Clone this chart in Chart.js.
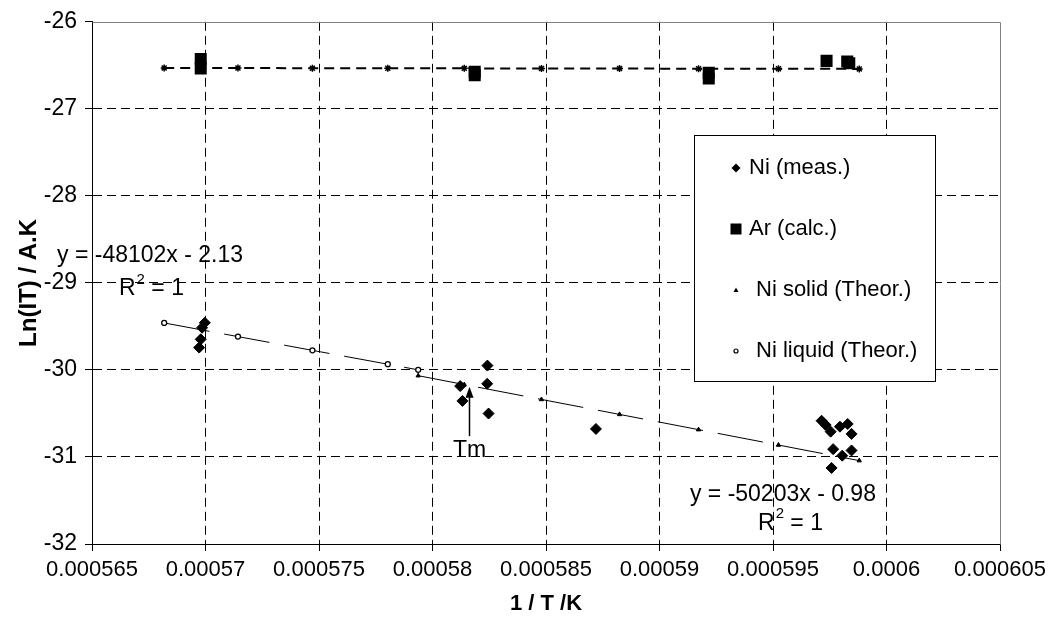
<!DOCTYPE html>
<html>
<head>
<meta charset="utf-8">
<script src="https://cdn.jsdelivr.net/npm/chart.js@4.4.0/dist/chart.umd.min.js"></script>
<style>
  html, body { margin: 0; padding: 0; background: #ffffff; }
  #wrap { width: 1052px; height: 627px; position: relative; }
</style>
</head>
<body>
<div id="wrap"><canvas id="chart"></canvas></div>
<script>
// Axis ticks
const xTickValues = [0.000565, 0.00057, 0.000575, 0.00058, 0.000585, 0.00059, 0.000595, 0.0006, 0.000605];
const xTickLabels = ['0.000565', '0.00057', '0.000575', '0.00058', '0.000585', '0.00059', '0.000595', '0.0006', '0.000605'];
const yTickValues = [-32, -31, -30, -29, -28, -27, -26];

// Ni, measured points (1/T, Ln(IT))
const niMeasX = [0.00056997, 0.00056985, 0.00056979, 0.00056972,
                 0.00058122, 0.00058132, 0.00058242, 0.00058241, 0.00058247, 0.00058720,
                 0.00059714, 0.00059732, 0.00059754, 0.00059795, 0.00059829, 0.00059846,
                 0.00059765, 0.00059805, 0.00059846, 0.00059758];
const niMeasY = [-29.458, -29.515, -29.648, -29.743,
                 -30.186, -30.356, -29.950, -30.159, -30.501, -30.678,
                 -30.584, -30.633, -30.709, -30.652, -30.621, -30.735,
                 -30.910, -30.985, -30.925, -31.126];

// Ar, calculated points
const arCalcX = [0.00056979, 0.00056979, 0.00058186, 0.00058186, 0.00059217, 0.00059217, 0.00059736, 0.00059827, 0.00059836];
const arCalcY = [-26.427, -26.537, -26.574, -26.613, -26.586, -26.651, -26.449, -26.455, -26.475];

// Ni solid, theoretical (from Tm down to 1670 K)
const niSolidX = [0.00057937, 0.00058140, 0.00058480, 0.00058824, 0.00059172, 0.00059524, 0.00059880];
const niSolidY = [-30.066, -30.168, -30.339, -30.511, -30.686, -30.863, -31.042];

// Ni liquid, theoretical (1760 K up to Tm)
const niLiquidX = [0.00056818, 0.00057143, 0.00057471, 0.00057803, 0.00057937];
const niLiquidY = [-29.460, -29.617, -29.775, -29.934, -29.999];

// Ar, theoretical (1760 K to 1670 K)
const arTheorX = [0.00056818, 0.00057143, 0.00057471, 0.00057803, 0.00058140, 0.00058480, 0.00058824, 0.00059172, 0.00059524, 0.00059880];
const arTheorY = [-26.530, -26.531, -26.533, -26.533, -26.535, -26.536, -26.537, -26.539, -26.540, -26.541];

// Trend-line equations and the melting point marker
const eqLiquid = { text: 'y = -48102x - 2.13', x: 0.00056346, y: -28.682 };
const r2Liquid = { x: 0.00056619, y: -29.068 };
const eqSolid = { text: 'y = -50203x - 0.98', x: 0.00059134, y: -31.432 };
const r2Solid = { x: 0.00059434, y: -31.761 };
const tmMark = { text: 'Tm', x: 0.00058162, yLabel: -30.932, yFrom: -30.761, yTo: -30.193 };

const legendItems = ['Ni (meas.)', 'Ar (calc.)', 'Ni solid (Theor.)', 'Ni liquid (Theor.)'];

const FONT = '"Liberation Sans", Arial, sans-serif';
const TEXT_PX = 23;
const pts = (xs, ys) => xs.map((x, i) => ({ x: x, y: ys[i] }));

function shape(ctx, kind, x, y, r) {
  ctx.beginPath();
  if (kind === 'diamond') {
    ctx.moveTo(x, y - r); ctx.lineTo(x + r, y); ctx.lineTo(x, y + r); ctx.lineTo(x - r, y); ctx.closePath();
    ctx.fill();
  } else if (kind === 'square') {
    ctx.rect(x - r, y - r, 2 * r, 2 * r); ctx.fill();
  } else if (kind === 'triangle') {
    ctx.moveTo(x, y - r); ctx.lineTo(x + r, y + r * 0.8); ctx.lineTo(x - r, y + r * 0.8); ctx.closePath();
    ctx.fill();
  } else if (kind === 'circle') {
    ctx.arc(x, y, r, 0, Math.PI * 2);
    ctx.fillStyle = '#fff'; ctx.fill();
    ctx.lineWidth = 1.2; ctx.strokeStyle = '#000'; ctx.stroke();
    ctx.fillStyle = '#000';
  }
}

const overlay = {
  id: 'overlay',
  afterDatasetsDraw(chart) {
    const { ctx, chartArea: a, scales: { x: sx, y: sy } } = chart;
    ctx.save();

    // frame on the top and right of the plot area
    ctx.strokeStyle = '#808080';
    ctx.lineWidth = 1;
    ctx.beginPath();
    ctx.moveTo(Math.round(a.left) + 0.5, Math.round(a.top) + 0.5);
    ctx.lineTo(Math.round(a.right) + 0.5, Math.round(a.top) + 0.5);
    ctx.lineTo(Math.round(a.right) + 0.5, Math.round(a.bottom) + 0.5);
    ctx.stroke();

    ctx.fillStyle = '#000';
    ctx.textBaseline = 'middle';
    ctx.textAlign = 'left';
    const font = TEXT_PX + 'px ' + FONT;

    // equations with R²
    const drawR2 = (pos) => {
      const px = sx.getPixelForValue(pos.x), py = sy.getPixelForValue(pos.y);
      ctx.font = font;
      ctx.fillText('R', px, py);
      const w = ctx.measureText('R').width;
      ctx.font = '15px ' + FONT;
      ctx.fillText('2', px + w + 1, py - 9);
      const w2 = ctx.measureText('2').width;
      ctx.font = font;
      ctx.fillText(' = 1', px + w + w2 + 1, py);
    };
    ctx.font = font;
    ctx.fillText(eqLiquid.text, sx.getPixelForValue(eqLiquid.x), sy.getPixelForValue(eqLiquid.y));
    drawR2(r2Liquid);
    ctx.font = font;
    ctx.fillText(eqSolid.text, sx.getPixelForValue(eqSolid.x), sy.getPixelForValue(eqSolid.y));
    drawR2(r2Solid);

    // melting point arrow
    const ax = Math.round(sx.getPixelForValue(tmMark.x)) + 0.5;
    const y0 = sy.getPixelForValue(tmMark.yFrom), y1 = sy.getPixelForValue(tmMark.yTo);
    ctx.strokeStyle = '#000';
    ctx.lineWidth = 1.5;
    ctx.beginPath(); ctx.moveTo(ax, y0); ctx.lineTo(ax, y1 + 8); ctx.stroke();
    ctx.beginPath(); ctx.moveTo(ax, y1); ctx.lineTo(ax + 4, y1 + 11); ctx.lineTo(ax - 4, y1 + 11); ctx.closePath(); ctx.fill();
    ctx.textAlign = 'center';
    ctx.font = font;
    ctx.fillText(tmMark.text, ax, sy.getPixelForValue(tmMark.yLabel));

    // legend box
    const L = { left: 694, top: 135, right: 935, bottom: 381 };
    ctx.fillStyle = '#fff';
    ctx.fillRect(L.left, L.top, L.right - L.left, L.bottom - L.top);
    ctx.strokeStyle = '#000';
    ctx.lineWidth = 1;
    ctx.strokeRect(L.left + 0.5, L.top + 0.5, L.right - L.left, L.bottom - L.top);
    const rows = [168, 229, 290, 351];
    const kinds = [['diamond', 4.5], ['square', 5.5], ['triangle', 2.5], ['circle', 2]];
    const textX = [749, 749, 756, 756];
    ctx.textAlign = 'left';
    legendItems.forEach((t, i) => {
      ctx.fillStyle = '#000';
      shape(ctx, kinds[i][0], 736, rows[i], kinds[i][1]);
      ctx.font = '22px ' + FONT;
      ctx.fillStyle = '#000';
      ctx.fillText(t, textX[i], rows[i]);
    });
    ctx.restore();
  }
};

const lastX = xTickValues.length - 1;
const lastY = yTickValues.length - 1;

new Chart(document.getElementById('chart'), {
  type: 'scatter',
  data: {
    datasets: [
      { label: legendItems[0], data: pts(niMeasX, niMeasY), showLine: false,
        pointStyle: 'rectRot', pointRadius: 5.5, pointBackgroundColor: '#000', pointBorderColor: '#000', pointBorderWidth: 1 },
      { label: legendItems[1], data: pts(arCalcX, arCalcY), showLine: false,
        pointStyle: 'rect', pointRadius: 8.5, pointBackgroundColor: '#000', pointBorderColor: '#000', pointBorderWidth: 0 },
      { label: legendItems[2], data: pts(niSolidX, niSolidY), showLine: true, borderColor: '#000', borderWidth: 1,
        borderDash: [46, 15], tension: 0, pointStyle: 'triangle', pointRadius: 2.5,
        pointBackgroundColor: '#000', pointBorderColor: '#000', pointBorderWidth: 1 },
      { label: legendItems[3], data: pts(niLiquidX, niLiquidY), showLine: true, borderColor: '#000', borderWidth: 1,
        borderDash: [46, 15], tension: 0, pointStyle: 'circle', pointRadius: 2.5,
        pointBackgroundColor: '#fff', pointBorderColor: '#000', pointBorderWidth: 1.3 },
      { label: 'Ar (Theor.)', data: pts(arTheorX, arTheorY), showLine: true, borderColor: '#000', borderWidth: 2,
        borderDash: [10, 6], tension: 0, pointStyle: 'star', pointRadius: 3.5,
        pointBackgroundColor: '#000', pointBorderColor: '#000', pointBorderWidth: 1.5 }
    ]
  },
  options: {
    responsive: true,
    maintainAspectRatio: false,
    devicePixelRatio: 1,
    animation: false,
    layout: { padding: { left: 0, right: 52, top: 16, bottom: 0 } },
    plugins: { legend: { display: false }, tooltip: { enabled: false } },
    scales: {
      x: {
        type: 'linear', position: 'bottom', min: 0.000565, max: 0.000605,
        afterBuildTicks: s => { s.ticks = xTickValues.map(v => ({ value: v })); },
        afterFit: s => { s.height = 83; },
        ticks: { callback: (v, i) => xTickLabels[i], color: '#000', font: { family: FONT, size: 22 },
                 padding: 6, maxRotation: 0, autoSkip: false },
        grid: { color: c => (c.index === lastX ? 'rgba(0,0,0,0)' : '#000'), lineWidth: 1,
                tickColor: '#000', tickLength: 7, tickWidth: 1 },
        border: { display: true, color: '#000', width: 1, dash: [9, 5] },
        title: { display: true, text: '1 / T /K', color: '#000',
                 font: { family: FONT, size: 22, weight: 'bold' }, padding: { top: 0, bottom: 10 } }
      },
      y: {
        type: 'linear', position: 'left', min: -32, max: -26,
        afterBuildTicks: s => { s.ticks = yTickValues.map(v => ({ value: v })); },
        afterFit: s => { s.width = 92; },
        ticks: { color: '#000', font: { family: FONT, size: 23 }, padding: 8 },
        grid: { color: c => (c.index === lastY ? 'rgba(0,0,0,0)' : '#000'), lineWidth: 1,
                tickColor: '#000', tickLength: 7, tickWidth: 1 },
        border: { display: true, color: '#000', width: 1, dash: [9, 5] },
        title: { display: true, text: 'Ln(IT) / A.K', color: '#000',
                 font: { family: FONT, size: 24, weight: 'bold' }, padding: { top: 15, bottom: 0 } }
      }
    }
  },
  plugins: [overlay]
});
</script>
</body>
</html>
